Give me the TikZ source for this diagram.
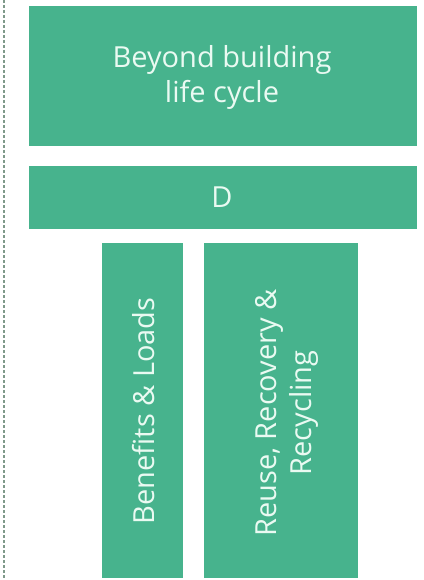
\documentclass[tikz,border=0pt]{standalone}
\usepackage{fontspec}
\setmainfont{Open Sans}
\definecolor{boxgreen}{HTML}{47B38D}
\definecolor{txtgreen}{HTML}{EAFAF2}
\definecolor{dashgray}{HTML}{7F9A8A}
\begin{document}
\begin{tikzpicture}[x=1pt,y=-1pt,
  gbox/.style={fill=boxgreen,draw=none},
  lbl/.style={text=txtgreen,font=\fontsize{29}{35}\selectfont,align=center,inner sep=0pt}]
\useasboundingbox (0,0) rectangle (423,580);
\coordinate (dtop) at (4,0);
\coordinate (dbot) at (4,580);
\draw[dashgray,line width=1.6pt,dash pattern=on 3pt off 2pt] (dtop) -- (dbot);
\fill[gbox] (29,6) rectangle (417,146);
\fill[gbox] (29,166) rectangle (417,229);
\fill[gbox] (102,243) rectangle (183,578);
\fill[gbox] (204,243) rectangle (358,578);
\node[lbl] (t1) at (222,77) {Beyond building\\life cycle};
\node[lbl] (t2) at (222,197.5) {D};
\node[lbl,rotate=90] (t3) at (144,411) {Benefits \& Loads};
\node[lbl,rotate=90] (t4) at (287,413) {Reuse, Recovery \&\\Recycling};
\end{tikzpicture}
\end{document}
